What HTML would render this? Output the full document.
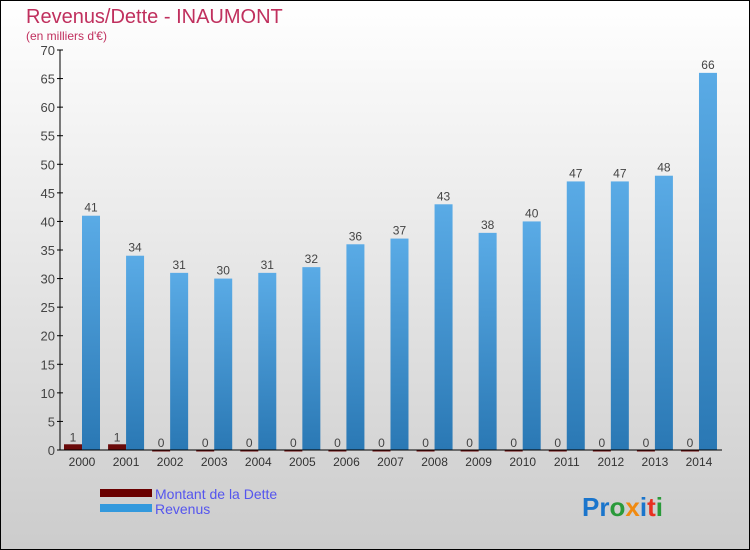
<!DOCTYPE html>
<html><head><meta charset="utf-8"><style>
html,body{margin:0;padding:0}
body{width:750px;height:550px;overflow:hidden}
svg{display:block;font-family:"Liberation Sans",sans-serif}
</style></head><body>
<svg id="c" width="750" height="550" viewBox="0 0 750 550">
<defs>
<linearGradient id="bg" x1="0" y1="0" x2="0" y2="1"><stop offset="0" stop-color="#ffffff"/><stop offset="1" stop-color="#cccccc"/></linearGradient>
<linearGradient id="rev" x1="0" y1="0" x2="0" y2="1"><stop offset="0" stop-color="#5aabe6"/><stop offset="1" stop-color="#2a78b4"/></linearGradient>
</defs>
<rect x="0.5" y="0.5" width="749" height="549" fill="url(#bg)" stroke="#000"/>
<text x="26" y="23" font-size="20" fill="#c0305e">Revenus/Dette - INAUMONT</text>
<text x="26" y="40" font-size="12" fill="#c0305e">(en milliers d'€)</text>
<g id="plot"></g>
<g>
<rect x="100" y="489" width="52" height="8" fill="#6a0000"/>
<text x="155" y="499" font-size="14" fill="#5555ee">Montant de la Dette</text>
<rect x="100" y="504" width="52" height="8" fill="#3399dd"/>
<text x="155" y="514" font-size="14" fill="#5555ee">Revenus</text>
</g>
<text x="582" y="516" font-size="26" font-weight="bold"><tspan fill="#1a75cc">Pr</tspan><tspan fill="#2a9a3a">o</tspan><tspan fill="#f08a10">x</tspan><tspan fill="#1a75cc">i</tspan><tspan fill="#e83020">t</tspan><tspan fill="#2a9a3a">i</tspan></text>
</svg>
<script>
const years=["2000","2001","2002","2003","2004","2005","2006","2007","2008","2009","2010","2011","2012","2013","2014"];
const dette=[1,1,0,0,0,0,0,0,0,0,0,0,0,0,0];
const revenus=[41,34,31,30,31,32,36,37,43,38,40,47,47,48,66];
const yTicks=[0,5,10,15,20,25,30,35,40,45,50,55,60,65,70];
const NS="http://www.w3.org/2000/svg";
const g=document.getElementById('plot');
const x0=60,yBase=450,yTop=50,yMax=70;
const y=v=>yBase-(v/yMax)*(yBase-yTop);
const xc=i=>82+i*44.07;
function mk(t,a,txt){const e=document.createElementNS(NS,t);for(const k in a)e.setAttribute(k,a[k]);if(txt!==undefined)e.textContent=txt;g.appendChild(e);return e;}
yTicks.forEach(v=>{
const l=mk('line',{x1:x0-3,x2:x0+3,y1:y(v),y2:y(v),stroke:'#000'});


const t=mk('text',{x:x0-5,y:y(v)+5,'text-anchor':'end','font-size':'13',fill:'#444'},v);


});
years.forEach((yr,i)=>{
const c=xc(i);
const d=mk('rect',{x:c-18,y:y(dette[i]),width:18,height:Math.max(yBase-y(dette[i]),1.5),fill:'#6a0a0a'});


const r=mk('rect',{x:c,y:y(revenus[i]),width:18,height:yBase-y(revenus[i]),fill:'url(#rev)'});


const dl=mk('text',{x:c-9,y:y(dette[i])-3,'text-anchor':'middle','font-size':'12',fill:'#444'},dette[i]);


const rl=mk('text',{x:c+9,y:y(revenus[i])-4,'text-anchor':'middle','font-size':'12',fill:'#444'},revenus[i]);


const xl=mk('text',{x:c,y:466,'text-anchor':'middle','font-size':'12',fill:'#333'},yr);


});
const ya=mk('line',{x1:x0,x2:x0,y1:yTop,y2:yBase,stroke:'#000'});


const xa=mk('line',{x1:x0,x2:722,y1:yBase,y2:yBase,stroke:'#000'});


</script>
</body></html>
